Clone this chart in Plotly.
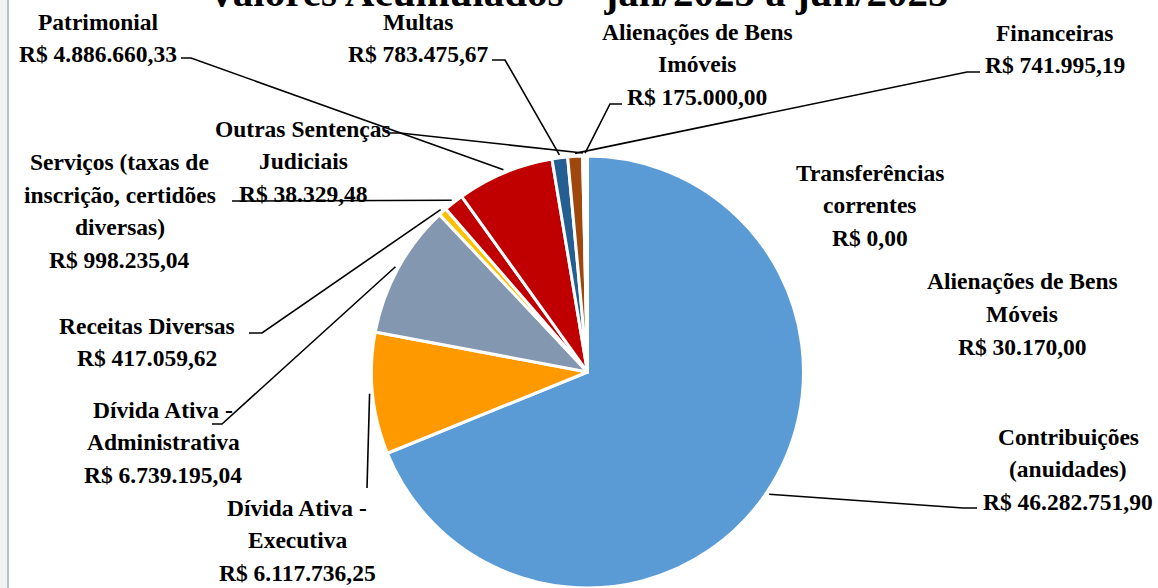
import math
import plotly.graph_objects as go

W, H = 1158, 588

# ---------------- data ----------------
categories = [
    "Contribuições (anuidades)", "Dívida Ativa - Executiva", "Dívida Ativa - Administrativa",
    "Receitas Diversas", "Serviços (taxas de inscrição, certidões diversas)", "Patrimonial",
    "Multas", "Financeiras", "Outras Sentenças Judiciais", "Alienações de Bens Imóveis",
    "Transferências correntes", "Alienações de Bens Móveis",
]
label_lines = [
    ["Contribuições", "(anuidades)"], ["Dívida Ativa -", "Executiva"], ["Dívida Ativa -", "Administrativa"],
    ["Receitas Diversas"], ["Serviços (taxas de", "inscrição, certidões", "diversas)"], ["Patrimonial"],
    ["Multas"], ["Financeiras"], ["Outras Sentenças", "Judiciais"], ["Alienações de Bens", "Imóveis"],
    ["Transferências", "correntes"], ["Alienações de Bens", "Móveis"],
]
values = [46282751.90, 6117736.25, 6739195.04, 417059.62, 998235.04, 4886660.33,
          783475.67, 741995.19, 38329.48, 175000.00, 0.00, 30170.00]
colors = ["#5B9BD5", "#FF9900", "#8497B0", "#FFC000", "#C00000", "#C00000",
          "#255E91", "#9E480E", "#A5A5A5", "#70AD47", "#4472C4", "#264478"]
title_text = "Valores Acumulados – jan/2025 a jun/2025"

# ---------------- layout (pixels) ----------------
CX, CY, R = 587.5, 372.0, 216.0
LS = 32.5  # label line spacing
label_pos = [(1068, 469), (297, 540), (163, 442), (147, 342), (120, 211), (98, 38),
             (418, 38), (1055, 49), (303, 161), (697, 64), (870, 205), (1022, 314)]
leader_start = [[(977, 508), (963, 508)], [(367, 488)], [(212, 424), (222, 424)],
                [(249, 333), (262, 333)], [(232, 201), (246, 201)], [(181, 58), (191, 58)],
                [(492, 60), (505, 60)], [(980, 72), (967, 72)], [(390, 133), (400, 133)],
                [(622, 104), (610, 104)], None, None]

FONT = "Liberation Serif"
FSIZE = 23.5


def px(x):
    return x / W


def py(y):
    return 1 - y / H


def brl(v):
    s = f"{v:,.2f}"
    return "R$ " + s.replace(",", "X").replace(".", ",").replace("X", ".")


fig = go.Figure()
fig.add_trace(go.Pie(
    labels=categories, values=values, sort=False, direction="clockwise", rotation=0,
    marker=dict(colors=colors, line=dict(color="white", width=3)),
    textinfo="none", hoverinfo="label+value", showlegend=False,
    domain=dict(x=[px(CX - R), px(CX + R)], y=[py(CY + R), py(CY - R)]),
))

total = sum(values)
annotations = []
shapes = []
cum = 0.0
for i, v in enumerate(values):
    mid = (cum + v / 2) / total * 2 * math.pi
    cum += v
    lx, ly = label_pos[i]
    lines = label_lines[i] + [brl(v)]
    n = len(lines)
    for k, line in enumerate(lines):
        yy = ly + (k - (n - 1) / 2) * LS
        annotations.append(dict(
            x=px(lx), y=py(yy), xref="paper", yref="paper", text="<b>" + line + "</b>",
            showarrow=False, xanchor="center", yanchor="middle", align="center",
            font=dict(family=FONT, size=FSIZE, color="black"),
        ))
    if leader_start[i]:
        re = R + 3
        ex, ey = CX + re * math.sin(mid), CY - re * math.cos(mid)
        pts = leader_start[i] + [(ex, ey)]
        path = "M " + " L ".join(f"{px(x):.5f},{py(y):.5f}" for x, y in pts)
        shapes.append(dict(type="path", path=path, xref="paper", yref="paper",
                           line=dict(color="black", width=1.6)))

annotations.append(dict(
    x=px(578), y=py(-8), xref="paper", yref="paper", text="<b>" + title_text + "</b>",
    showarrow=False, xanchor="center", yanchor="middle",
    font=dict(family=FONT, size=41, color="black"),
))

# left frame strip
shapes.append(dict(type="rect", xref="paper", yref="paper", x0=0, x1=px(7), y0=0, y1=1,
                   fillcolor="#F2F2F2", line=dict(width=0), layer="below"))
shapes.append(dict(type="line", xref="paper", yref="paper", x0=px(8), x1=px(8), y0=0, y1=1,
                   line=dict(color="#B4C2D6", width=2)))

fig.update_layout(
    width=W, height=H, margin=dict(l=0, r=0, t=0, b=0),
    paper_bgcolor="white", plot_bgcolor="white",
    annotations=annotations, shapes=shapes,
)
fig.write_html("out.html", config={"displayModeBar": False},
               post_script="document.body.style.margin='0px';")
